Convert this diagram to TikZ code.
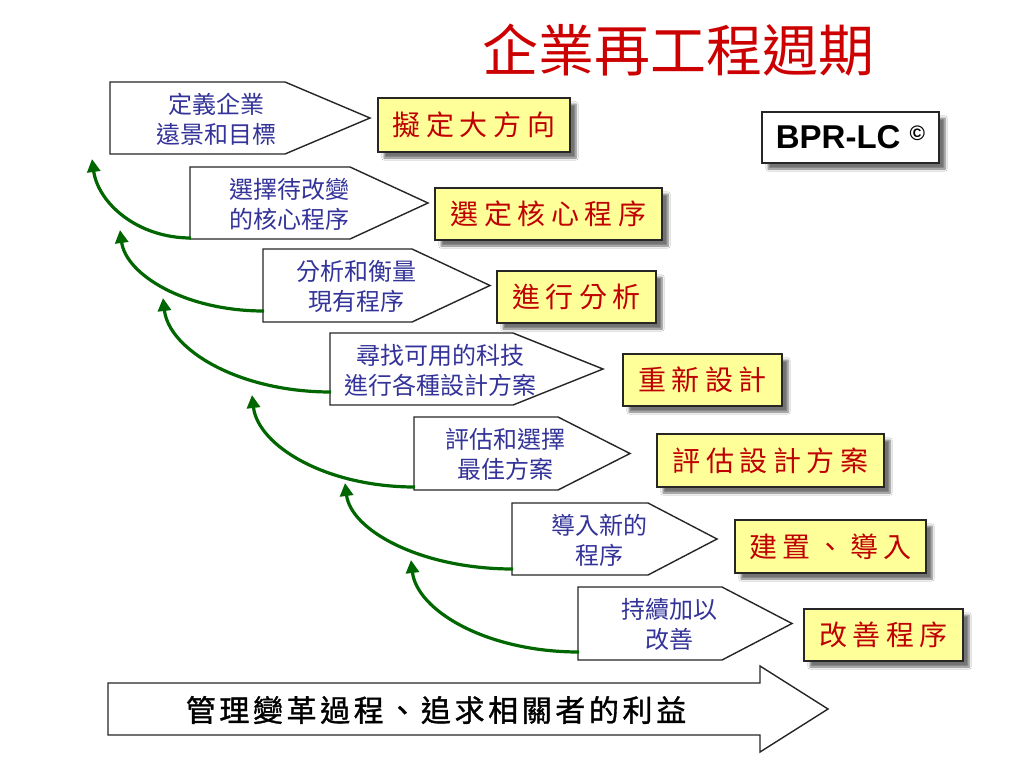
\documentclass[tikz,border=0pt]{standalone}
\usepackage{fontspec}
\setmainfont{Liberation Sans}
\newfontfamily\cjk{Noto Sans CJK TC}
\newfontfamily\cjkbox{Noto Sans CJK TC}[LetterSpace=20]
\newfontfamily\cjkbottom{Noto Sans CJK TC}[LetterSpace=12,FakeBold=1.2]
\usetikzlibrary{shadows.blur,arrows.meta}
\definecolor{navy}{HTML}{333399}
\definecolor{boxred}{HTML}{C00000}
\definecolor{titlered}{HTML}{CC0000}
\definecolor{boxyellow}{HTML}{FFFF99}
\definecolor{arrgreen}{HTML}{006600}
\tikzset{
  pentline/.style={draw=black!85, line width=1.4pt, fill=white, line join=miter},
  penttext/.style={align=center, font=\cjk\fontsize{24}{30}\selectfont, text=navy, inner sep=0pt},
  stepbox/.style={draw=black!85, line width=1.6pt, fill=boxyellow, text=boxred,
    font=\cjkbox\fontsize{28}{30}\selectfont, inner sep=0pt,
    blur shadow={shadow xshift=6pt, shadow yshift=-6pt, shadow blur steps=6, shadow opacity=55}},
  garrow/.style={draw=arrgreen, line width=3.2pt, -{Triangle[length=13pt,width=13pt]}},
}
\newcommand\pent[8]{% name left top bottom bodyend tip text attach-y
  \draw[pentline] (#2,#3) -- (#5,#3) -- (#6,{(#3+#4)/2}) -- (#5,#4) -- (#2,#4) -- cycle;
  \coordinate (#1-a) at (#2+1,#8);
  \node[penttext] (#1) at ({(#2+#5)/2+19},{(#3+#4)/2+1}) {#7};
}
\newcommand\garr[6]{% startname sx sy tipname tx ty
  \coordinate (#4) at (#5,#6);
  \draw[garrow] (#1) .. controls ({#2-0.55*(#2-#5)},#3) and ({#5+6},{#6+0.55*(#3-#6)}) .. (#4);
}
\begin{document}
\begin{tikzpicture}[x=1pt,y=-1pt]
\useasboundingbox (0,0) rectangle (1024,768);
\fill[white] (0,0) rectangle (1024,768);

% title
\node[text=titlered, font=\cjk\fontsize{56}{60}\selectfont, inner sep=0pt] (title) at (678,50) {企業再工程週期};

% BPR-LC box
\node[draw=black!85, line width=1.6pt, fill=white, minimum width=177pt, minimum height=51pt, inner sep=0pt,
  font=\bfseries\fontsize{33}{36}\selectfont,
  blur shadow={shadow xshift=6pt, shadow yshift=-6pt, shadow blur steps=6, shadow opacity=55}]
  (bpr) at (850.5,137.5) {BPR-LC \raisebox{8pt}{\fontsize{21}{22}\selectfont\textcopyright}};

% pentagons
\pent{p1}{110}{82}{154}{285}{370}{定義企業\\遠景和目標}{150}
\pent{p2}{190}{167}{239}{350}{428}{選擇待改變\\的核心程序}{238}
\pent{p3}{263}{249}{322}{412}{490}{分析和衡量\\現有程序}{311}
\pent{p4}{330}{333}{405}{513}{603}{尋找可用的科技\\進行各種設計方案}{392}
\pent{p5}{414}{417}{490}{558}{630}{評估和選擇\\最佳方案}{487}
\pent{p6}{512}{503}{575}{648}{717}{導入新的\\程序}{569}
\pent{p7}{578}{587}{660}{722}{792}{持續加以\\改善}{652}

% yellow step boxes
\node[stepbox, minimum width=192pt, minimum height=54pt] (b1) at (474,125) {擬定大方向};
\node[stepbox, minimum width=227pt, minimum height=52pt] (b2) at (548.5,214) {選定核心程序};
\node[stepbox, minimum width=159pt, minimum height=52pt] (b3) at (576.5,297) {進行分析};
\node[stepbox, minimum width=159pt, minimum height=52pt] (b4) at (702.5,380) {重新設計};
\node[stepbox, minimum width=227pt, minimum height=53pt] (b5) at (770.5,460.5) {評估設計方案};
\node[stepbox, minimum width=191pt, minimum height=53pt] (b6) at (830.5,546.5) {建置、導入};
\node[stepbox, minimum width=159pt, minimum height=52pt] (b7) at (883.5,635) {改善程序};

% green curved arrows
\garr{p2-a}{191}{238}{t1}{92}{159}
\garr{p3-a}{264}{311}{t2}{120}{230}
\garr{p4-a}{331}{392}{t3}{163}{298}
\garr{p5-a}{415}{487}{t4}{252}{395}
\garr{p6-a}{513}{569}{t5}{345}{483}
\garr{p7-a}{579}{652}{t6}{411}{560}

% bottom big arrow
\draw[draw=black!85, line width=1.4pt, fill=white, line join=miter]
  (108,683) -- (760,683) -- (760,666) -- (828,709) -- (760,752) -- (760,735) -- (108,735) -- cycle;
\node[font=\cjkbottom\fontsize{30}{34}\selectfont, text=black, inner sep=0pt] (bottom) at (436,710) {管理變革過程、追求相關者的利益};
\end{tikzpicture}
\end{document}
